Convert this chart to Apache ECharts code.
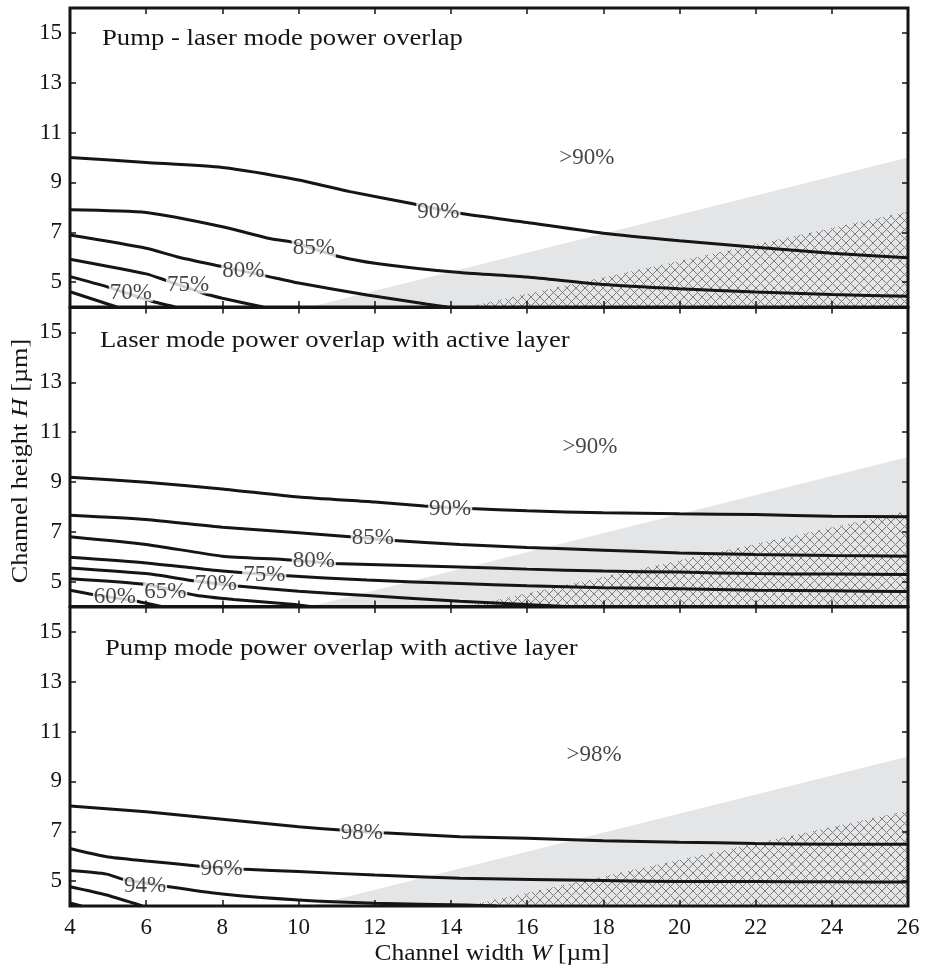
<!DOCTYPE html>
<html>
<head>
<meta charset="utf-8">
<script src="https://cdn.jsdelivr.net/npm/echarts@6/dist/echarts.min.js"></script>
<style>
  html, body { margin: 0; padding: 0; background: #fff; }
  #chart { width: 929px; height: 970px; }
</style>
</head>
<body>
<div id="chart"></div>
<script>
// ---- Contour levels: [channel width W, channel height H] in µm ----
// Pump - laser mode power overlap
const pumpLaser90 = [[4,10.0],[6,9.8],[8,9.6],[10,9.1],[11.35,8.63],[13,8.14],[14.24,7.76],[16,7.39],[18,6.96],[20,6.66],[22,6.40],[24,6.16],[26,5.98]];
const pumpLaser85 = [[4,7.9],[6,7.79],[8,7.22],[9.2,6.76],[9.85,6.6],[11,6.05],[12.05,5.75],[14.24,5.38],[16,5.2],[18,4.9],[20,4.73],[22,4.6],[24,4.5],[26,4.43]];
const pumpLaser80 = [[4,6.89],[6,6.36],[6.8,6.02],[8,5.62],[9.16,5.24],[10.04,4.95],[11.8,4.48],[13.35,4.12],[13.9,4.0]];
const pumpLaser75 = [[4,5.92],[6,5.33],[6.5,5.08],[7.5,4.55],[8.0,4.35],[9.07,4.0]];
const pumpLaser70 = [[4,5.22],[4.96,4.82],[6.13,4.24],[6.76,4.0]];
const pumpLaser65 = [[4,4.61],[5.23,4.0]];
const pumpLaserLabels = [[13.67,7.82,'90%'],[10.4,6.36,'85%'],[8.55,5.45,'80%'],[7.1,4.9,'75%'],[5.6,4.58,'70%']];

// Laser mode power overlap with active layer
const laserActive90 = [[4,9.19],[6,8.99],[8,8.72],[10,8.39],[12,8.19],[13.3,8.03],[14.5,7.93],[16,7.84],[18,7.76],[20,7.72],[22,7.69],[24,7.62],[26,7.6]];
const laserActive85 = [[4,7.66],[6,7.49],[8,7.18],[10,6.96],[11.35,6.8],[12.4,6.66],[14.24,6.49],[16,6.37],[18,6.26],[20,6.15],[22,6.09],[24,6.05],[26,6.02]];
const laserActive80 = [[4,6.8],[6,6.49],[8,6.02],[9.6,5.89],[10.9,5.73],[14.24,5.59],[16,5.5],[18,5.42],[20,5.38],[22,5.32],[24,5.3],[26,5.28]];
const laserActive75 = [[4,5.98],[6,5.75],[8,5.42],[9.6,5.24],[11.8,5.06],[14.24,4.92],[16,4.83],[18,4.75],[20,4.71],[22,4.65],[24,4.63],[26,4.6]];
const laserActive70 = [[4,5.55],[6,5.32],[7.3,5.02],[8.4,4.82],[10,4.61],[11.8,4.44],[14.24,4.21],[17.0,4.0]];
const laserActive65 = [[4,5.11],[6,4.88],[7.3,4.45],[8.3,4.28],[9.9,4.08],[10.3,4.0]];
const laserActive60 = [[4,4.65],[4.6,4.48],[5.75,4.21],[6.4,4.0]];
const laserActiveLabels = [[13.98,7.9,'90%'],[11.95,6.76,'85%'],[10.4,5.82,'80%'],[9.1,5.25,'75%'],[7.83,4.92,'70%'],[6.5,4.58,'65%'],[5.18,4.38,'60%']];

// Pump mode power overlap with active layer
const pumpActive98 = [[4,8.01],[6,7.78],[8,7.48],[10,7.18],[11.1,7.05],[12.2,6.94],[14.24,6.78],[16,6.72],[18,6.62],[20,6.56],[22,6.51],[24,6.48],[26,6.48]];
const pumpActive96 = [[4,6.31],[4.96,5.98],[6,5.81],[7.4,5.6],[8.6,5.47],[10,5.38],[12,5.24],[14.24,5.11],[18,5.02],[20,4.98],[22,4.98],[24,4.97],[26,4.96]];
const pumpActive94 = [[4,5.42],[4.96,5.28],[5.4,5.07],[6.6,4.77],[8,4.48],[10,4.24],[12,4.11],[14.4,4.04],[15.2,4.0]];
const pumpActive92 = [[4,4.77],[4.96,4.44],[5.9,4.0]];
const pumpActive90 = [[4,4.12],[4.3,4.0]];
const pumpActiveLabels = [[11.66,6.93,'98%'],[7.98,5.5,'96%'],[5.97,4.81,'94%']];

// Shaded and cross-hatched regions (upper edge, filled down to H = 4)
const shadedEdge = [[10.3,4],[26,10]];
const hatchedEdge = [[14.4,4],[26,7.83]];

const yTicks = [5,7,9,11,13,15];
const panelTitles = ['Pump - laser mode power overlap', 'Laser mode power overlap with active layer', 'Pump mode power overlap with active layer'];
const regionNotes = ['>90%', '>90%', '>98%'];

const panels = [
  { levels: [pumpLaser90, pumpLaser85, pumpLaser80, pumpLaser75, pumpLaser70, pumpLaser65], labels: pumpLaserLabels },
  { levels: [laserActive90, laserActive85, laserActive80, laserActive75, laserActive70, laserActive65, laserActive60], labels: laserActiveLabels },
  { levels: [pumpActive98, pumpActive96, pumpActive94, pumpActive92, pumpActive90], labels: pumpActiveLabels }
];

// ---- layout ----
const FONT = '"Liberation Serif", "DejaVu Serif", serif';
const FS = 23;
const INK = '#151515';
const gridTops = [8, 307.5, 607];
const gridH = 299;
const noteAt = [[17.57, 10.0], [17.65, 10.42], [17.76, 10.06]];
const titleAt = [[102, 39], [100, 341], [105, 649]];
const WIDE = 1.16; // horizontal stretch for the wide serif headings

// cross-hatch tile
const hatch = document.createElement('canvas');
hatch.width = 9; hatch.height = 9;
(function () {
  const c = hatch.getContext('2d');
  c.strokeStyle = '#7d7d7d';
  c.lineWidth = 1;
  c.beginPath();
  c.moveTo(0, 0); c.lineTo(9, 9);
  c.moveTo(9, 0); c.lineTo(0, 9);
  c.stroke();
})();

const grid = [], xAxis = [], yAxis = [], series = [], graphic = [];

panels.forEach((p, g) => {
  grid.push({ left: 70, width: 838, top: gridTops[g], height: gridH, show: true,
    borderColor: INK, borderWidth: 3, backgroundColor: 'transparent', z: 10 });

  const tick = { inside: true, length: 6, lineStyle: { color: INK, width: 1.5 } };
  xAxis.push({
    gridIndex: g, type: 'value', min: 4, max: 26, interval: 2, position: 'bottom', z: 10,
    axisLine: { show: false }, axisTick: tick, splitLine: { show: false },
    axisLabel: { show: g === 2, margin: 10, fontFamily: FONT, fontSize: FS, color: INK }
  });
  xAxis.push({
    gridIndex: g, type: 'value', min: 4, max: 26, interval: 2, position: 'top', z: 10,
    axisLine: { show: false }, axisTick: tick, splitLine: { show: false }, axisLabel: { show: false }
  });
  yAxis.push({
    gridIndex: g, type: 'value', min: 4, max: 16, position: 'left', z: 10,
    axisLine: { show: false }, splitLine: { show: false },
    axisTick: Object.assign({ customValues: yTicks }, tick),
    axisLabel: { customValues: yTicks, margin: 8, fontFamily: FONT, fontSize: FS, color: INK }
  });
  yAxis.push({
    gridIndex: g, type: 'value', min: 4, max: 16, position: 'right', z: 10,
    axisLine: { show: false }, splitLine: { show: false },
    axisTick: Object.assign({ customValues: yTicks }, tick),
    axisLabel: { show: false }
  });

  const ax = { xAxisIndex: 2 * g, yAxisIndex: 2 * g };

  series.push(Object.assign({
    type: 'line', data: shadedEdge, symbol: 'none', silent: true, z: 1,
    lineStyle: { width: 0 }, areaStyle: { color: '#e4e5e6', opacity: 1, origin: 'start' }
  }, ax));
  series.push(Object.assign({
    type: 'line', data: hatchedEdge, symbol: 'none', silent: true, z: 2,
    lineStyle: { width: 0 }, areaStyle: { color: { image: hatch, repeat: 'repeat' }, opacity: 1, origin: 'start' }
  }, ax));

  p.levels.forEach(lv => {
    series.push(Object.assign({
      type: 'line', data: lv, symbol: 'none', silent: true, z: 3, smooth: 0.2,
      lineStyle: { color: INK, width: 3 }
    }, ax));
  });

  series.push(Object.assign({
    type: 'scatter', data: p.labels, symbolSize: 0, silent: true, z: 4,
    label: { show: true, position: 'inside', formatter: d => d.value[2],
      fontFamily: FONT, fontSize: FS, color: INK, backgroundColor: '#fff',
      padding: [0, 1], lineHeight: 18 }
  }, ax));

  series.push(Object.assign({
    type: 'scatter', data: [noteAt[g]], symbolSize: 0, silent: true, z: 4,
    label: { show: true, position: 'inside', formatter: () => regionNotes[g],
      fontFamily: FONT, fontSize: FS, color: INK }
  }, ax));

  graphic.push({
    type: 'text', x: titleAt[g][0], y: titleAt[g][1], scaleX: WIDE, z: 20, silent: true,
    style: { text: panelTitles[g], font: FS + 'px ' + FONT, fill: INK,
      textAlign: 'left', textVerticalAlign: 'middle' }
  });
});

// axis titles
const nameRich = {
  a: { font: FS + 'px ' + FONT, fill: INK },
  b: { font: 'italic ' + FS + 'px ' + FONT, fill: INK }
};
graphic.push({
  type: 'text', x: 492, y: 954, scaleX: 1.11, z: 20, silent: true,
  style: { text: '{a|Channel width }{b|W}{a| [µm]}', rich: nameRich, fill: INK,
    textAlign: 'center', textVerticalAlign: 'middle' }
});
graphic.push({
  type: 'text', x: 21, y: 461, rotation: Math.PI / 2, scaleX: 1.14, z: 20, silent: true,
  style: { text: '{a|Channel height }{b|H}{a| [µm]}', rich: nameRich, fill: INK,
    textAlign: 'center', textVerticalAlign: 'middle' }
});

const chart = echarts.init(document.getElementById('chart'), null, { renderer: 'canvas' });
chart.setOption({ animation: false, backgroundColor: '#fff', grid, xAxis, yAxis, series, graphic });
</script>
</body>
</html>
